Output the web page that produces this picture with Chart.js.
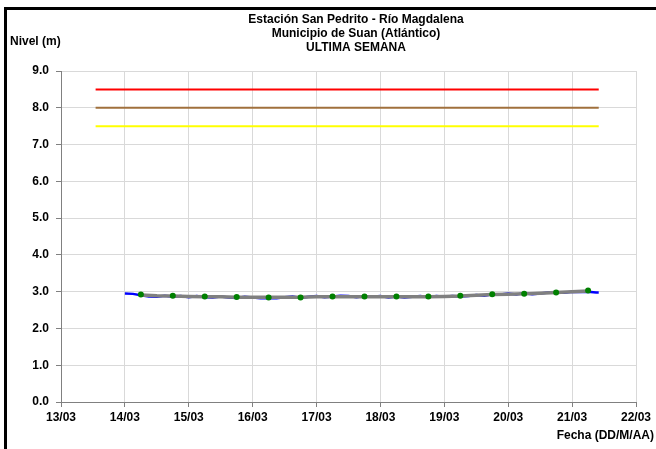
<!DOCTYPE html>
<html>
<head>
<meta charset="utf-8">
<script src="https://cdn.jsdelivr.net/npm/chart.js@4"></script>
<style>
  body { margin: 0; background: #fff; }
  #wrap { position: relative; width: 656px; height: 449px; }
</style>
</head>
<body>
<div id="wrap"><canvas id="nivelChart" width="656" height="449"></canvas></div>
<script>
// tick labels of the date axis (one per day)
const dayLabels = ['13/03', '14/03', '15/03', '16/03', '17/03', '18/03', '19/03', '20/03', '21/03', '22/03'];

// alert levels (m)
const alertRed = 8.5;
const alertOrange = 8.0;
const alertYellow = 7.5;
const alertTimes = ['13/03 13:00', '21/03 10:00'];

// raw sensor readings (blue)
const sensorTimes = [
  '14/03 00:00', '14/03 03:00', '14/03 06:00', '14/03 09:00', '14/03 12:00', '14/03 15:00', '14/03 18:00', '14/03 21:00',
  '15/03 00:00', '15/03 03:00', '15/03 06:00', '15/03 09:00', '15/03 12:00', '15/03 15:00', '15/03 18:00', '15/03 21:00',
  '16/03 00:00', '16/03 03:00', '16/03 06:00', '16/03 09:00', '16/03 12:00', '16/03 15:00', '16/03 18:00', '16/03 21:00',
  '17/03 00:00', '17/03 03:00', '17/03 06:00', '17/03 09:00', '17/03 12:00', '17/03 15:00', '17/03 18:00', '17/03 21:00',
  '18/03 00:00', '18/03 03:00', '18/03 06:00', '18/03 09:00', '18/03 12:00', '18/03 15:00', '18/03 18:00', '18/03 21:00',
  '19/03 00:00', '19/03 03:00', '19/03 06:00', '19/03 09:00', '19/03 12:00', '19/03 15:00', '19/03 18:00', '19/03 21:00',
  '20/03 00:00', '20/03 03:00', '20/03 06:00', '20/03 09:00', '20/03 12:00', '20/03 15:00', '20/03 18:00', '20/03 21:00',
  '21/03 00:00', '21/03 03:00', '21/03 06:00', '21/03 09:00', '21/03 10:00'
];
const sensorValues = [
  2.95, 2.94, 2.90, 2.87, 2.86, 2.89, 2.86, 2.88,
  2.85, 2.88, 2.85, 2.84, 2.87, 2.84, 2.83, 2.86,
  2.84, 2.82, 2.83, 2.82, 2.85, 2.87, 2.83, 2.86,
  2.88, 2.85, 2.87, 2.89, 2.88, 2.85, 2.88, 2.86,
  2.88, 2.84, 2.87, 2.84, 2.86, 2.88, 2.85, 2.88,
  2.86, 2.88, 2.87, 2.88, 2.91, 2.89, 2.93, 2.92,
  2.95, 2.92, 2.96, 2.93, 2.95, 2.98, 2.99, 2.97,
  3.00, 2.99, 3.00, 2.98, 2.98
];

// averaged level (gray)
const avgTimes = [
  '14/03 06:00', '14/03 12:00', '14/03 18:00',
  '15/03 00:00', '15/03 06:00', '15/03 12:00', '15/03 18:00',
  '16/03 00:00', '16/03 06:00', '16/03 12:00', '16/03 18:00',
  '17/03 00:00', '17/03 06:00', '17/03 12:00', '17/03 18:00',
  '18/03 00:00', '18/03 06:00', '18/03 12:00', '18/03 18:00',
  '19/03 00:00', '19/03 06:00', '19/03 12:00', '19/03 18:00',
  '20/03 00:00', '20/03 06:00', '20/03 12:00', '20/03 18:00',
  '21/03 00:00', '21/03 06:00'
];
const avgValues = [
  2.91, 2.89, 2.88,
  2.87, 2.86, 2.86, 2.85,
  2.85, 2.85, 2.85, 2.85,
  2.86, 2.86, 2.86, 2.86,
  2.86, 2.86, 2.86, 2.86,
  2.87, 2.88, 2.90, 2.92,
  2.93, 2.94, 2.96, 2.98,
  3.00, 3.02
];

// manual readings (green)
const readTimes = [
  '14/03 06:00', '14/03 18:00', '15/03 06:00', '15/03 18:00', '16/03 06:00', '16/03 18:00', '17/03 06:00', '17/03 18:00',
  '18/03 06:00', '18/03 18:00', '19/03 06:00', '19/03 18:00', '20/03 06:00', '20/03 18:00', '21/03 06:00'
];
const readValues = [2.92, 2.89, 2.87, 2.855, 2.84, 2.84, 2.87, 2.87, 2.87, 2.87, 2.89, 2.93, 2.94, 2.98, 3.03];

// "DD/MM hh:mm" -> days since 13/03 00:00
function toDays(s) {
  const [d, t] = s.split(' ');
  const day = parseInt(d.split('/')[0], 10);
  const [h, m] = t.split(':').map(Number);
  return (day - 13) + (h + m / 60) / 24;
}

function pts(times, values) {
  return times.map((t, i) => ({ x: toDays(t), y: values[i] }));
}

function flat(level) {
  return alertTimes.map(t => ({ x: toDays(t), y: level }));
}

const FONT = 'Liberation Sans, Arial, sans-serif';

const decor = {
  id: 'decor',
  beforeDraw(chart) {
    const c = chart.ctx;
    c.save();
    c.fillStyle = '#fff';
    c.fillRect(0, 0, chart.width, chart.height);
    c.restore();
  },
  afterDraw(chart) {
    const c = chart.ctx;
    c.save();
    // page frame
    c.fillStyle = '#000';
    c.fillRect(4, 7, 652, 3);
    c.fillRect(4, 7, 3, 442);
    // titles
    c.fillStyle = '#000';
    c.font = 'bold 12px ' + FONT;
    c.textBaseline = 'middle';
    c.textAlign = 'center';
    c.fillText('Estación San Pedrito - Río Magdalena', 356, 20);
    c.fillText('Municipio de Suan (Atlántico)', 356, 34);
    c.fillText('ULTIMA SEMANA', 356, 48);
    c.textAlign = 'left';
    c.fillText('Nivel (m)', 10, 42);
    c.textAlign = 'right';
    c.fillText('Fecha (DD/M/AA)', 654, 436);
    c.restore();
  }
};

const ctx = document.getElementById('nivelChart').getContext('2d');
new Chart(ctx, {
  type: 'line',
  data: {
    datasets: [
      { data: pts(readTimes, readValues), showLine: false, pointRadius: 3, pointBackgroundColor: '#008000', pointBorderWidth: 0, order: 0 },
      { data: pts(avgTimes, avgValues), borderColor: '#808080', borderWidth: 3.5, pointRadius: 0, tension: 0, order: 1 },
      { data: pts(sensorTimes, sensorValues), borderColor: '#0000ff', borderWidth: 2.5, pointRadius: 0, tension: 0, order: 2 },
      { data: flat(alertRed), borderColor: '#ff0000', borderWidth: 2, pointRadius: 0, order: 3 },
      { data: flat(alertOrange), borderColor: '#a0703c', borderWidth: 2, pointRadius: 0, order: 3 },
      { data: flat(alertYellow), borderColor: '#ffff00', borderWidth: 2, pointRadius: 0, order: 3 }
    ]
  },
  options: {
    responsive: false,
    animation: false,
    layout: { padding: { left: 0, right: 20, top: 71, bottom: 0 } },
    plugins: { legend: { display: false }, tooltip: { enabled: false } },
    scales: {
      x: {
        type: 'linear',
        min: 0,
        max: 9,
        afterFit(scale) { scale.height = 47; },
        ticks: {
          stepSize: 1,
          padding: 3,
          color: '#000',
          font: { family: FONT, size: 12, weight: 'bold' },
          maxRotation: 0,
          callback: v => dayLabels[v]
        },
        grid: { color: '#d9d9d9', tickColor: '#808080', tickLength: 5 },
        border: { color: '#808080' }
      },
      y: {
        min: 0,
        max: 9,
        afterFit(scale) { scale.width = 61; },
        ticks: {
          stepSize: 1,
          padding: 7,
          color: '#000',
          font: { family: FONT, size: 12, weight: 'bold' },
          callback: v => v.toFixed(1)
        },
        grid: { color: '#d9d9d9', tickColor: '#808080', tickLength: 5 },
        border: { color: '#808080' }
      }
    }
  },
  plugins: [decor]
});
</script>
</body>
</html>
